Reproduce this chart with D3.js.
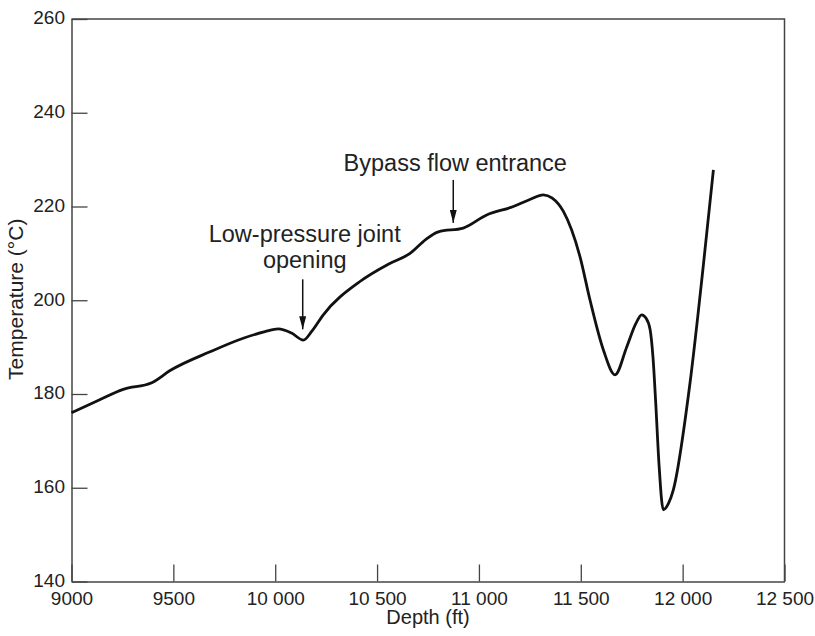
<!DOCTYPE html>
<html>
<head>
<meta charset="utf-8">
<script src="https://cdn.jsdelivr.net/npm/d3@7"></script>
<style>
  body { margin: 0; background: #fff; }
  text { font-family: "Liberation Sans", Arial, Helvetica, sans-serif; fill: #222; }
</style>
</head>
<body>
<div id="chart"></div>
<script>
// temperature log
var depths = [9000, 9120, 9254, 9394, 9484, 9680, 9843, 9950, 10015, 10080, 10138, 10180, 10236, 10416,
              10560, 10662, 10740, 10801, 10923, 11038, 11169, 11250, 11316, 11360, 11414, 11496, 11545,
              11611, 11668, 11726, 11770, 11799, 11820, 11840, 11855, 11868, 11884, 11905, 11930, 11954,
              12036, 12101, 12151];
var temps = [176.0, 178.4, 181.0, 182.4, 185.0, 189.0, 191.9, 193.3, 193.9, 193.0, 191.5, 193.4, 196.9, 204.0,
             207.8, 210.0, 213.0, 214.6, 215.4, 218.2, 220.0, 221.5, 222.5, 221.8, 219.0, 209.3, 200.1,
             189.4, 184.1, 190.1, 195.0, 196.9, 196.2, 193.8, 187.5, 178.0, 165.0, 155.3, 156.6, 159.5,
             182.3, 207.2, 227.8];

var xTicks = [9000, 9500, 10000, 10500, 11000, 11500, 12000, 12500];
var yTicks = [140, 160, 180, 200, 220, 240, 260];

// arrow tips in data units
var noteLines = [["Low-pressure joint", "opening"], ["Bypass flow entrance"]];
var noteDepths = [10135, 10874];
var noteTemps = [193.8, 216.5];

var width = 815, height = 636;
var margin = { top: 19, right: 30.5, bottom: 54.5, left: 71.5 };
var w = width - margin.left - margin.right,
    h = height - margin.top - margin.bottom;

var svg = d3.select("#chart").append("svg")
    .attr("width", width)
    .attr("height", height);

var defs = svg.append("defs");
defs.append("marker")
    .attr("id", "arrow")
    .attr("viewBox", "0 0 13 7")
    .attr("refX", 13).attr("refY", 3.5)
    .attr("markerUnits", "userSpaceOnUse")
    .attr("markerWidth", 13).attr("markerHeight", 7)
    .attr("orient", "auto")
    .append("path")
    .attr("d", "M0,0 L13,3.5 L0,7 Z")
    .style("fill", "#111");

var g = svg.append("g")
    .attr("transform", "translate(" + margin.left + "," + margin.top + ")");

var x = d3.scaleLinear().domain([9000, 12500]).range([0, w]);
var y = d3.scaleLinear().domain([140, 260]).range([h, 0]);

function fmt(d) {
    if (d < 10000) return String(d);
    var s = String(d);
    return s.slice(0, 2) + " " + s.slice(2);
}

var xAxis = g.append("g")
    .attr("transform", "translate(0," + h + ")")
    .call(d3.axisBottom(x).tickValues(xTicks).tickFormat(fmt)
        .tickSizeInner(-17).tickSizeOuter(0).tickPadding(10.5));

var yAxis = g.append("g")
    .call(d3.axisLeft(y).tickValues(yTicks)
        .tickSizeInner(-16).tickSizeOuter(0).tickPadding(6.5));

[xAxis, yAxis].forEach(function(a) {
    a.select(".domain").style("stroke", "#444").style("stroke-width", 1.5);
    a.selectAll(".tick line").style("stroke", "#444").style("stroke-width", 1.3);
    a.selectAll(".tick text").style("font-size", "19px").style("fill", "#222")
        .attr("font-family", null);
});
yAxis.selectAll(".tick text").attr("dy", "0.25em");

// top and right frame
g.append("path")
    .attr("d", "M0,0 H" + w + " V" + h)
    .style("fill", "none")
    .style("stroke", "#444")
    .style("stroke-width", 1.5);

// temperature curve
var pts = depths.map(function(d, i) { return [d, temps[i]]; });
var line = d3.line()
    .x(function(d) { return x(d[0]); })
    .y(function(d) { return y(d[1]); })
    .curve(d3.curveMonotoneX);

g.append("path")
    .datum(pts)
    .attr("d", line)
    .style("fill", "none")
    .style("stroke", "#111")
    .style("stroke-width", 2.8)
    .style("stroke-linejoin", "round");

// annotations
var arrowLen = [50, 43];
var textGap = [11.5, 9];
noteLines.forEach(function(lines, i) {
    var tx = x(noteDepths[i]), ty = y(noteTemps[i]);
    g.append("line")
        .attr("x1", tx).attr("y1", ty - arrowLen[i])
        .attr("x2", tx).attr("y2", ty)
        .attr("marker-end", "url(#arrow)")
        .style("stroke", "#111")
        .style("stroke-width", 1.5);
    var n = lines.length;
    lines.forEach(function(s, j) {
        g.append("text")
            .attr("x", tx + 2)
            .attr("y", ty - arrowLen[i] - textGap[i] + (j - (n - 1)) * 25.7)
            .attr("text-anchor", "middle")
            .style("font-size", "23.5px")
            .text(s);
    });
});

// axis titles
g.append("text")
    .attr("x", w / 2)
    .attr("y", h + 42)
    .attr("text-anchor", "middle")
    .style("font-size", "20px")
    .text("Depth (ft)");

g.append("text")
    .attr("transform", "translate(" + (-49) + "," + (h / 2 - 1) + ") rotate(-90)")
    .attr("text-anchor", "middle")
    .style("font-size", "21px")
    .text("Temperature (°C)");
</script>
</body>
</html>
